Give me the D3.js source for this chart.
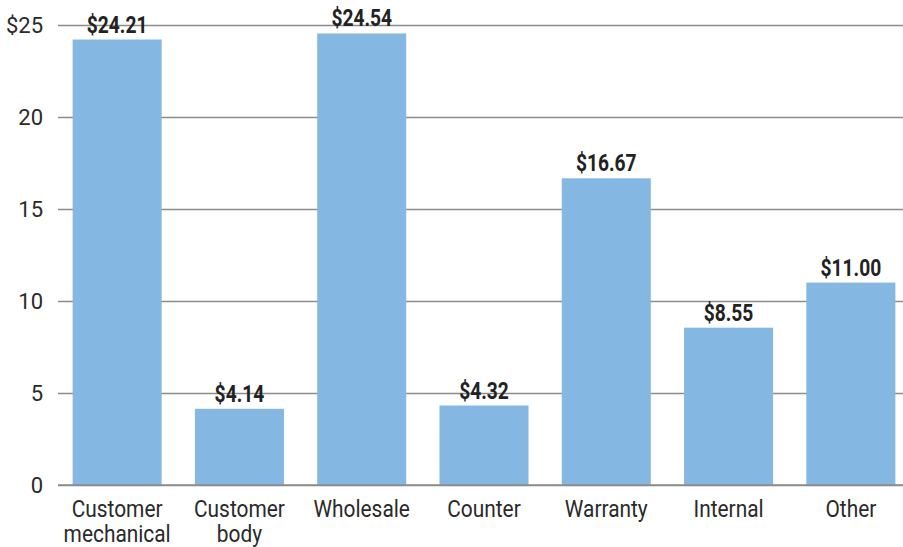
<!DOCTYPE html>
<html>
<head>
<meta charset="utf-8">
<script src="https://cdn.jsdelivr.net/npm/d3@7"></script>
<style>
  html, body { margin: 0; padding: 0; background: #fff; }
  svg { display: block; }
</style>
</head>
<body>
<svg id="chart" width="903" height="547"></svg>
<script>
const categories = [["Customer", "mechanical"], ["Customer", "body"], ["Wholesale"], ["Counter"], ["Warranty"], ["Internal"], ["Other"]];
const values = [24.21, 4.14, 24.54, 4.32, 16.67, 8.55, 11.00];
const tickValues = [0, 5, 10, 15, 20, 25];
const tickLabels = ["0", "5", "10", "15", "20", "$25"];

const svg = d3.select("#chart");
const font = "Roboto, 'Noto Sans', sans-serif";

const keys = categories.map((c, i) => i);
const x = d3.scaleBand().domain(keys).range([56, 912]).paddingInner(0.272).paddingOuter(0.136);
const y = d3.scaleLinear().domain([0, 25]).range([485, 25]);

// gridlines + tick labels
const yAxis = d3.axisLeft(y).tickValues(tickValues).tickSize(-(903 - 58)).tickFormat((d, i) => tickLabels[i]);
const gAxis = svg.append("g").attr("transform", "translate(58,0)").call(yAxis);
gAxis.select(".domain").remove();
gAxis.selectAll(".tick line").attr("stroke", "#8c8c8c").attr("stroke-width", 1.5);
gAxis.selectAll(".tick text")
  .attr("x", -15)
  .attr("dy", "0.36em")
  .attr("font-family", font)
  .attr("font-size", 22)
  .attr("fill", "#2a2a2a");

// bars
svg.append("g").selectAll("rect").data(values).join("rect")
  .attr("x", (d, i) => x(i))
  .attr("y", d => y(d))
  .attr("width", x.bandwidth())
  .attr("height", d => y(0) - y(d))
  .attr("fill", "#84b7e2");

// baseline on top
svg.append("line")
  .attr("x1", 58).attr("x2", 903)
  .attr("y1", y(0)).attr("y2", y(0))
  .attr("stroke", "#8c8c8c").attr("stroke-width", 1.5);

// value labels (condensed by horizontal scaling)
svg.append("g").selectAll("text").data(values).join("text")
  .attr("transform", (d, i) => `translate(${x(i) + x.bandwidth() / 2},${y(d) - 7}) scale(0.8,1)`)
  .attr("text-anchor", "middle")
  .attr("font-family", font)
  .attr("font-weight", "bold")
  .attr("font-size", 24)
  .attr("fill", "#222")
  .text(d => "$" + d3.format(".2f")(d));

// category labels (condensed by horizontal scaling)
const cat = svg.append("g").selectAll("text").data(categories).join("text")
  .attr("transform", (d, i) => `translate(${x(i) + x.bandwidth() / 2},517) scale(0.87,1)`)
  .attr("text-anchor", "middle")
  .attr("font-family", font)
  .attr("font-size", 24)
  .attr("fill", "#2a2a2a");
cat.selectAll("tspan").data(d => d).join("tspan")
  .attr("x", 0)
  .attr("dy", (d, i) => i === 0 ? 0 : 25)
  .text(d => d);
</script>
</body>
</html>
